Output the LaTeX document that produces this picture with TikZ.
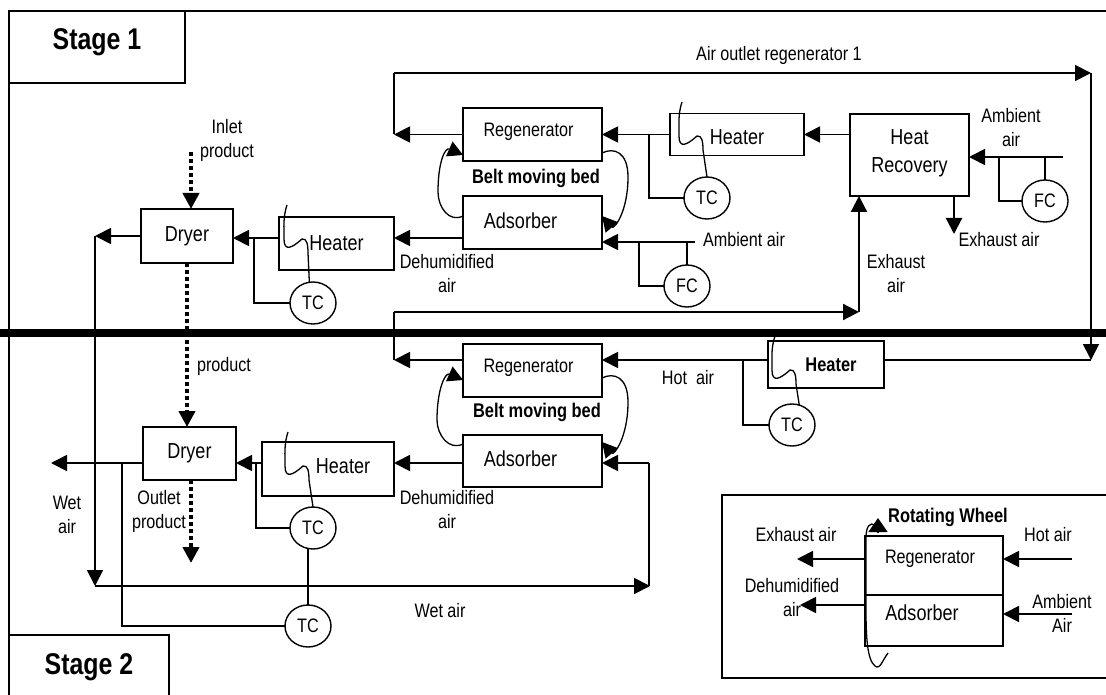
\documentclass[tikz,border=0pt]{standalone}
\usepackage{fontspec}
\setmainfont[FakeStretch=0.83]{Liberation Sans}
\usepackage{xcolor}
\usepackage{tikz}
\usetikzlibrary{arrows.meta,positioning,shapes.geometric}
\newcommand{\probewire}[2]{\draw[sense] (#1) .. controls +(-4,12) and +(0,-12) .. ++(-3,34) .. controls +(0,13) and +(-10,9) .. ++(18,0) .. controls +(5,-1) and +(0,-8) .. ++(6,14) -- (#2);}

\begin{document}
\begin{tikzpicture}[
    x=1pt, y=-1pt,
    font=\fontsize{19.5}{24}\selectfont,
    bigtxt/.style={font=\fontsize{21.7}{28}\selectfont},
    boldtxt/.style={font=\fontsize{19.8}{24}\bfseries\selectfont},
    stagetxt/.style={font=\fontsize{30}{34}\bfseries\selectfont},
    unit/.style={draw, line width=1.7pt, outer sep=0pt, inner sep=0pt, align=center, bigtxt},
    sensor/.style={draw, line width=1.4pt, ellipse, outer sep=0pt, inner sep=0pt, minimum width=46pt, minimum height=42pt},
    stagebox/.style={draw, line width=1.4pt, outer sep=0pt, inner sep=0pt, stagetxt},
    txt/.style={align=center, inner sep=0pt, outer sep=0pt},
    arr/.style={-{Triangle[length=16pt,width=16pt]}, line width=1.8pt},
    heavy/.style={-{Triangle[length=16pt,width=16pt]}, line width=2.2pt},
    wire/.style={line width=1.5pt},
    sense/.style={line width=1.3pt},
    prodflow/.style={-{Triangle[length=16pt,width=16pt]}, line width=4pt, dash pattern=on 4pt off 3pt},
    belt/.style={-{Triangle[length=15pt,width=16pt]}, line width=1.3pt},
    edge/.style={line width=1.5pt}
]
\useasboundingbox (0,0) rectangle (1106,695);

\draw[edge] (1106,11) -- (9,11) -- (9,695);
\draw[line width=8pt] (0,333) -- (1106,333);
\draw[edge] (1106,495) -- (722,495) -- (722,678) -- (1106,678);

\node[stagebox, minimum width=176pt, minimum height=72pt, label={[stagetxt,yshift=5pt]center:Stage 1}] (stageA) at (97,47) {};
\node[stagebox, minimum width=160pt, minimum height=64pt] (stageB) at (89,667) {Stage 2};

\node[unit, minimum width=139pt, minimum height=53pt, label={[font=\fontsize{19.5}{24}\selectfont,xshift=-4pt,yshift=3pt]center:Regenerator}] (regenA) at (532.5,134.5) {};
\node[unit, minimum width=139pt, minimum height=53pt, below=35pt of regenA, label={[bigtxt,xshift=-12pt,yshift=2pt]center:Adsorber}] (adsA) {};
\node[unit, minimum width=134pt, minimum height=42pt, right=68pt of regenA, label={[bigtxt,yshift=-3pt]center:Heater}] (heatA) {};
\node[unit, minimum width=119pt, minimum height=82pt, label={[bigtxt,align=center,yshift=2pt]center:{Heat\\Recovery}}] (recov) at (909.5,155) {};
\node[unit, minimum width=92pt, minimum height=54pt] (dryerA) at (187,236) {Dryer};
\node[unit, minimum width=115pt, minimum height=53pt] (heatB) at (336.5,243.5) {Heater};

\node[unit, minimum width=139pt, minimum height=53pt, label={[font=\fontsize{19.5}{24}\selectfont,xshift=-4pt,yshift=3pt]center:Regenerator}] (regenB) at (532.5,370.5) {};
\node[unit, minimum width=139pt, minimum height=52pt, below=38pt of regenB, label={[bigtxt,xshift=-12pt,yshift=2pt]center:Adsorber}] (adsB) {};
\node[unit, minimum width=116pt, minimum height=47pt, label={[boldtxt,xshift=5pt]center:Heater}] (heatC) at (826,364.5) {};
\node[unit, minimum width=93pt, minimum height=53pt] (dryerB) at (189.5,453.5) {Dryer};
\node[unit, minimum width=132pt, minimum height=54pt, label={[bigtxt,xshift=15pt,yshift=3pt]center:Heater}] (heatD) at (328,469) {};

\node[unit, minimum width=138pt, minimum height=59pt, label={[font=\fontsize{19.5}{24}\selectfont,xshift=-4pt,yshift=7pt]center:Regenerator}] (regenC) at (934,565.5) {};
\node[unit, minimum width=138pt, minimum height=51pt, below=0pt of regenC, label={[bigtxt,xshift=-12pt,yshift=8pt]center:Adsorber}] (adsC) {};

\node[sensor] (tcA) at (707,198) {TC};
\node[sensor] (fcA) at (687,286) {FC};
\node[sensor] (fcB) at (1045,201) {FC};
\node[sensor] (tcB) at (313,303) {TC};
\node[sensor] (tcC) at (792,425) {TC};
\node[sensor] (tcD) at (313,528) {TC};
\node[sensor] (tcE) at (308,626) {TC};

\node[txt] (lblOutlet) at (779,55) {Air outlet regenerator 1};
\node[txt, boldtxt] (lblBeltA) at (536,178) {Belt moving bed};
\node[txt, boldtxt] (lblBeltB) at (537,412) {Belt moving bed};
\node[txt] (lblInlet) at (227,140) {Inlet\\product};
\node[txt] (lblProduct) at (224,366) {product};
\node[txt] (lblOutprod) at (159,511) {Outlet\\product};
\node[txt] (lblDehA) at (447,274) {Dehumidified\\air};
\node[txt] (lblDehB) at (447,510) {Dehumidified\\air};
\node[txt] (lblAmbA) at (744,240) {Ambient air};
\node[txt] (lblAmbB) at (1011,128) {Ambient\\air};
\node[txt] (lblExhA) at (999,240) {Exhaust air};
\node[txt] (lblExhB) at (896,274) {Exhaust\\air};
\node[txt] (lblHot) at (688,378) {Hot\ \ air};
\node[txt] (lblWetA) at (67,515) {Wet\\air};
\node[txt] (lblWetB) at (440,611) {Wet air};
\node[txt, boldtxt] (lblWheel) at (948,517) {Rotating Wheel};
\node[txt] (lblExhC) at (796,535) {Exhaust air};
\node[txt] (lblDehC) at (792,598) {Dehumidified\\air};
\node[txt] (lblHotC) at (1048,535) {Hot air};
\node[txt] (lblAmbC) at (1062,613) {Ambient\\Air};

\coordinate (loopA) at (394,73);
\coordinate (loopB) at (1091,73);
\coordinate (rowHot) at (1091,360);
\coordinate (exhL) at (394,312);
\coordinate (exhR) at (859,312);
\coordinate (rowHeat) at (254,238);
\coordinate (ambA) at (695,242);
\coordinate (ambB) at (1063,157);
\coordinate (wetTop) at (95,236);
\coordinate (wetBot) at (95,586);
\coordinate (wetEnd) at (650,586);
\coordinate (rowWet) at (649,463);
\coordinate (rowDry) at (256,463);
\coordinate (rowOut) at (122,463);
\coordinate (endOut) at (51,463);
\coordinate (dotStart) at (191,152);
\coordinate (dotEnd) at (191,563);
\coordinate (probeA) at (682,102);
\coordinate (probeB) at (287,205);
\coordinate (probeC) at (775,336);
\coordinate (probeD) at (288,432);
\coordinate (hotC) at (1072,559);
\coordinate (ambC) at (1072,614);
\coordinate (exhC) at (797,559);
\coordinate (dehC) at (800,605);
\coordinate (wheelStart) at (888,653);
\coordinate (wheelBase) at (878,533);
\coordinate (wheelTip) at (878,518);

\draw[arr] (loopA) -- (loopB);
\draw[wire] (loopA) -- (loopA |- regenA.west);
\draw[arr] (regenA.west) -- (loopA |- regenA.west);
\draw[arr] (heatA.west) -- (regenA.east);
\draw[arr] (recov.west |- heatA.east) -- (heatA.east);
\draw[wire] (649,134) |- (tcA.west);
\draw[arr] (ambB) -- (recov.east |- ambB);
\draw[wire] (999,157) |- (fcB.west);
\draw[wire] (fcB.north) -- (fcB.north |- ambB);
\draw[heavy] (954,196) -- (954,234);
\draw[arr] (adsA.west |- rowHeat) -- (heatB.east |- rowHeat);
\draw[arr] (ambA) -- (adsA.east |- ambA);
\draw[wire] (639,242) |- (fcA.west);
\draw[wire] (fcA.north) -- (fcA.north |- ambA);
\draw[arr] (heatB.west |- rowHeat) -- (dryerA.east |- rowHeat);
\draw[wire] (rowHeat) |- (tcB.west);
\draw[arr] (dryerA.west) -- (wetTop);

\draw[arr] (wetTop) -- (wetBot);
\draw[arr] (wetBot) -- (wetEnd);
\draw[wire] (wetEnd -| rowWet) -- (rowWet);
\draw[arr] (rowWet) -- (adsB.east |- rowWet);
\draw[arr] (adsB.west |- rowWet) -- (heatD.east |- rowWet);
\draw[arr] (heatD.west |- rowWet) -- (dryerB.east |- rowWet);
\draw[wire] (rowDry) |- (tcD.west);
\draw[wire] (tcE.north) -- (tcE.north |- tcD.south);
\draw[arr] (dryerB.west |- rowOut) -- (endOut);
\draw[wire] (rowOut) |- (tcE.west);

\draw[heavy] (exhL) -- (exhR);
\draw[heavy] (exhR) -- (recov.south west -| exhR);
\draw[wire] (exhL) -- (exhL |- rowHot);
\draw[arr] (regenB.west |- rowHot) -- (exhL |- rowHot);
\draw[arr] (loopB) -- (rowHot);
\draw[wire] (heatC.east |- rowHot) -- (rowHot);
\draw[arr] (heatC.west |- rowHot) -- (regenB.east |- rowHot);
\draw[wire] (743,360) |- (tcC.west);

\draw[prodflow] (dotStart) -- (dotStart |- dryerA.north);
\draw[prodflow] (dryerA.south) -- (dryerA.south |- dryerB.north);
\draw[prodflow] (dotEnd |- dryerB.south) -- (dotEnd);

\probewire{probeA}{tcA.north}
\probewire{probeB}{tcB.100}
\probewire{probeC}{tcC.70}
\probewire{probeD}{tcD.north}

\draw[belt] ([yshift=-20pt]adsA.north west) .. controls +(-14,7) and +(0,15) .. ++(-25,-24) .. controls +(0,-30) and +(-18,-8) .. ([yshift=6pt]regenA.south west);
\draw[belt] ([yshift=8pt]regenA.south east) .. controls +(12,-6) and +(0,-25) .. ++(26,24) .. controls +(0,35) and +(12,14) .. ([yshift=-20pt]adsA.north east);
\draw[belt] ([yshift=-9pt]adsB.north west) .. controls +(-14,7) and +(0,15) .. ++(-26,-24) .. controls +(0,-30) and +(-18,-8) .. ([yshift=17pt]regenB.south west);
\draw[belt] ([yshift=19pt]regenB.south east) .. controls +(12,-6) and +(0,-25) .. ++(26,24) .. controls +(0,35) and +(12,14) .. ([yshift=-7pt]adsB.north east);

\draw[arr] (hotC) -- (regenC.east |- hotC);
\draw[arr] (ambC) -- (adsC.east |- ambC);
\draw[arr] (regenC.west |- hotC) -- (exhC);
\draw[arr] (adsC.west |- dehC) -- (dehC);
\draw[sense] (wheelStart) .. controls +(-6,8) and +(5,4) .. ++(-13,13) .. controls +(-8,-6) and +(0,25) .. (866,610) -- (866,538) .. controls (866,526) and (870,522) .. (875,525);
\draw[-{Triangle[length=14pt,width=19pt]}, sense] (wheelBase) -- (wheelTip);
\end{tikzpicture}
\end{document}
